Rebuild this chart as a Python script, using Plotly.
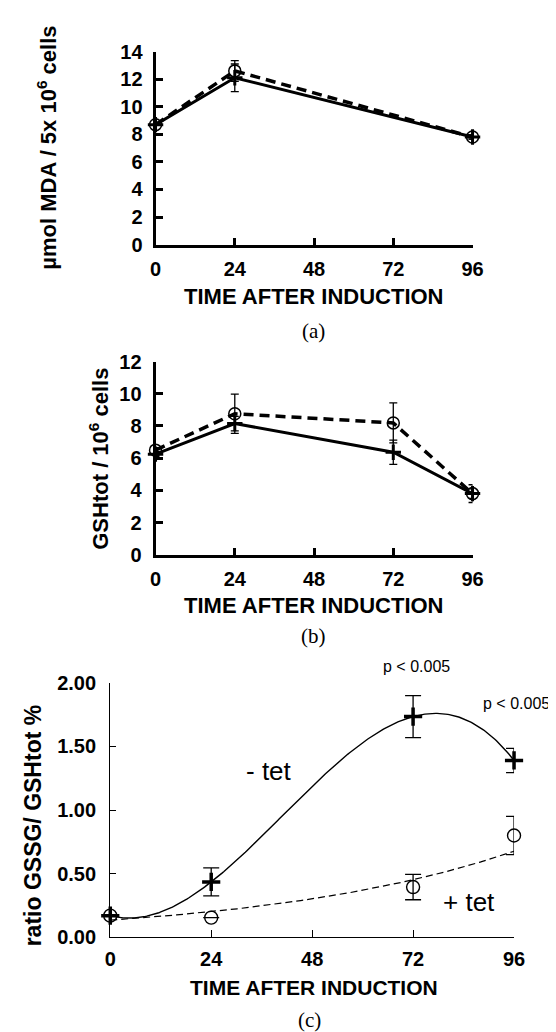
import numpy as np
import plotly.graph_objects as go

# ---------------- data ----------------
time_ticks = [0, 24, 48, 72, 96]

# (a) MDA
t_a = [0, 24, 96]
mda_minus = [8.7, 12.1, 7.8]
mda_minus_err = [0.0, 1.0, 0.15]
mda_plus = [8.7, 12.6, 7.8]
mda_plus_err = [0.0, 0.75, 0.15]

# (b) GSHtot
t_b = [0, 24, 72, 96]
gsh_minus = [6.25, 8.15, 6.37, 3.8]
gsh_minus_err = [0.15, 0.45, 0.75, 0.3]
gsh_plus = [6.5, 8.76, 8.19, 3.8]
gsh_plus_err = [0.15, 1.22, 1.24, 0.55]

# (c) GSSG / GSHtot ratio
t_c = [0, 24, 72, 96]
ratio_minus = [0.17, 0.435, 1.735, 1.39]
ratio_minus_err = [0.0, 0.11, 0.165, 0.095]
ratio_plus = [0.17, 0.155, 0.395, 0.80]
ratio_plus_err = [0.0, 0.0, 0.10, 0.15]

# ---------------- helpers ----------------
W, H = 556, 1032
SANS = "Liberation Sans, Arial, sans-serif"
SERIF = "Liberation Serif, Times New Roman, serif"


def px(x):
    return x / W


def py(y):
    return 1 - y / H


fig = go.Figure()

# ---- (a) ----
fig.add_trace(go.Scatter(
    x=t_a, y=mda_plus, mode="lines+markers", xaxis="x", yaxis="y",
    line=dict(color="black", width=3.5, dash="10px,6px"),
    marker=dict(symbol="circle-open", size=12, color="black", line=dict(width=1.5)),
    error_y=dict(type="data", array=mda_plus_err, color="black", thickness=1.3, width=4),
    cliponaxis=False, showlegend=False))
fig.add_trace(go.Scatter(
    x=t_a, y=mda_minus, mode="lines+markers", xaxis="x", yaxis="y",
    line=dict(color="black", width=3),
    marker=dict(symbol="cross-thin-open", size=11, color="black", line=dict(width=3, color="black")),
    error_y=dict(type="data", array=mda_minus_err, color="black", thickness=1.3, width=4),
    cliponaxis=False, showlegend=False))

# ---- (b) ----
fig.add_trace(go.Scatter(
    x=t_b, y=gsh_plus, mode="lines+markers", xaxis="x2", yaxis="y2",
    line=dict(color="black", width=3.5, dash="10px,6px"),
    marker=dict(symbol="circle-open", size=12, color="black", line=dict(width=1.5)),
    error_y=dict(type="data", array=gsh_plus_err, color="black", thickness=1.3, width=4),
    cliponaxis=False, showlegend=False))
fig.add_trace(go.Scatter(
    x=t_b, y=gsh_minus, mode="lines+markers", xaxis="x2", yaxis="y2",
    line=dict(color="black", width=3),
    marker=dict(symbol="cross-thin-open", size=11, color="black", line=dict(width=3, color="black")),
    error_y=dict(type="data", array=gsh_minus_err, color="black", thickness=1.3, width=4),
    cliponaxis=False, showlegend=False))

# ---- (c) trendlines fitted to the data ----
tt = np.linspace(0, 96, 300)
cubic = np.polyfit(t_c, ratio_minus, 3)
fit_minus = np.polyval(cubic, tt)
expo = np.polyfit(t_c, np.log(ratio_plus), 1)
fit_plus = np.exp(np.polyval(expo, tt))

fig.add_trace(go.Scatter(
    x=tt, y=fit_minus, mode="lines", xaxis="x3", yaxis="y3",
    line=dict(color="black", width=1.4), cliponaxis=False, showlegend=False))
fig.add_trace(go.Scatter(
    x=tt, y=fit_plus, mode="lines", xaxis="x3", yaxis="y3",
    line=dict(color="black", width=1.2, dash="7px,4px"), cliponaxis=False, showlegend=False))
fig.add_trace(go.Scatter(
    x=t_c, y=ratio_plus, mode="markers", xaxis="x3", yaxis="y3",
    marker=dict(symbol="circle-open", size=13, color="black", line=dict(width=1.4)),
    error_y=dict(type="data", array=ratio_plus_err, color="black", thickness=1.3, width=8),
    cliponaxis=False, showlegend=False))
fig.add_trace(go.Scatter(
    x=t_c, y=ratio_minus, mode="markers", xaxis="x3", yaxis="y3",
    marker=dict(symbol="cross-thin-open", size=13, color="black", line=dict(width=3.5, color="black")),
    error_y=dict(type="data", array=ratio_minus_err, color="black", thickness=1.3, width=8),
    cliponaxis=False, showlegend=False))

tickfont = dict(family=SANS, size=20, color="black", weight="bold")


def xax(dom, anchor, lw, tl):
    return dict(domain=dom, anchor=anchor, range=[0, 96], tickvals=time_ticks,
                ticks="inside", ticklen=tl, tickwidth=lw, tickcolor="black",
                showline=True, linewidth=lw, linecolor="black",
                showgrid=False, zeroline=False, tickfont=tickfont,
                ticklabelstandoff=4, fixedrange=True)


def yax(dom, anchor, rng, dtick, lw, tl, standoff, fmt=None):
    d = dict(domain=dom, anchor=anchor, range=rng, dtick=dtick,
             ticks="inside", ticklen=tl, tickwidth=lw, tickcolor="black",
             showline=True, linewidth=lw, linecolor="black",
             showgrid=False, zeroline=False, tickfont=tickfont,
             ticklabelstandoff=standoff, fixedrange=True)
    if fmt:
        d["tickformat"] = fmt
    return d


fig.update_layout(
    width=W, height=H,
    margin=dict(l=0, r=0, t=0, b=0),
    paper_bgcolor="white", plot_bgcolor="white",
    xaxis=xax([px(146), px(473)], "y", 3, 7),
    yaxis=yax([py(230.5), py(33.3)], "x", [0, 14], 2, 3, 7, 6),
    xaxis2=xax([px(146), px(473)], "y2", 3, 7),
    yaxis2=yax([py(547.5), py(350)], "x2", [0, 12], 2, 3, 7, 7),
    xaxis3=xax([px(99.3), px(515.8)], "y3", 1.3, 7),
    yaxis3=yax([py(938.3), py(678.3)], "x3", [0, 2], 0.5, 1.3, 6, 9, ".2f"),
)

ann = []


def text(x, y, s, size, bold=True, family=SANS, angle=0, xanchor="center"):
    ann.append(dict(x=px(x), y=py(y), xref="paper", yref="paper", text=s,
                    showarrow=False, textangle=angle, xanchor=xanchor, yanchor="middle",
                    font=dict(family=family, size=size, color="black",
                              weight="bold" if bold else "normal")))


# axis titles
text(309, 284, "TIME AFTER INDUCTION", 22)
text(309, 599, "TIME AFTER INDUCTION", 22)
text(309, 990, "TIME AFTER INDUCTION", 21)
text(34, 131.5, "µmol MDA / 5x 10<sup>6</sup> cells", 22, angle=-90)
text(88, 449, "GSHtot / 10<sup>6</sup> cells", 22, angle=-90)
text(20, 823.5, "ratio GSSG/ GSHtot %", 23, angle=-90)

# captions
text(309, 319, "(a)", 21, bold=False, family=SERIF)
text(309, 630, "(b)", 21, bold=False, family=SERIF)
text(305, 1023, "(c)", 21, bold=False, family=SERIF)

# annotations in (c)
text(415, 662, "p &lt; 0.005", 16, bold=False)
text(555, 699, "p &lt; 0.005", 16, bold=False, xanchor="right")
text(263, 768, "- tet", 26, bold=False)
text(469, 902, "+ tet", 26, bold=False)

fig.update_layout(annotations=ann)
fig.write_html("out.html")
